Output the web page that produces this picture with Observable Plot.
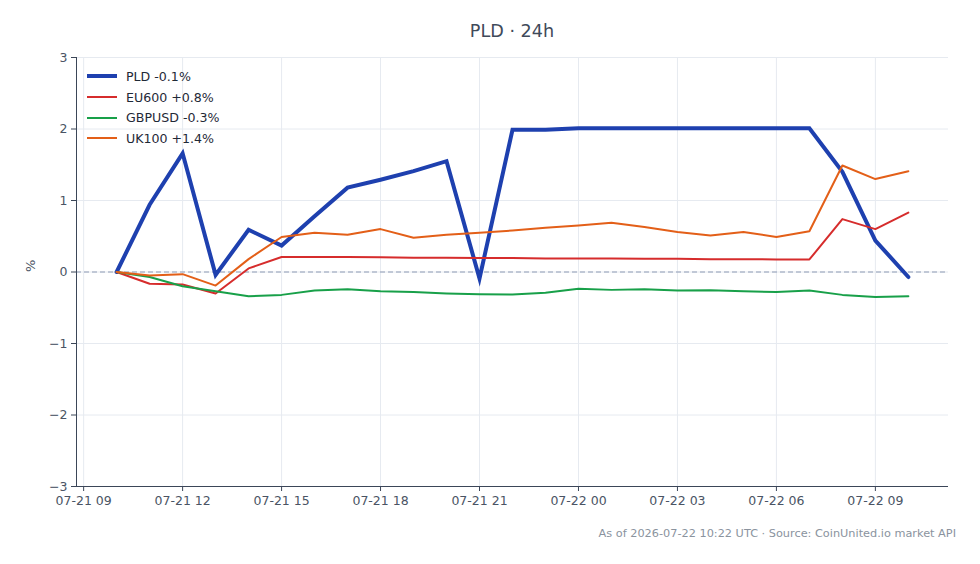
<!DOCTYPE html>
<html><head><meta charset="utf-8">
<script src="https://cdn.jsdelivr.net/npm/d3@7"></script>
<script src="https://cdn.jsdelivr.net/npm/@observablehq/plot@0.6"></script>
<style>
body{margin:0;background:#fff;font-family:"DejaVu Sans",sans-serif;}
#wrap{position:relative;width:980px;height:564px;overflow:hidden;}
#title{position:absolute;left:76px;top:20px;width:872px;text-align:center;font-size:17.6px;color:#3f4a5a;line-height:22px;}
#chart{position:absolute;left:0;top:44px;}
#caption{position:absolute;right:24px;top:527px;font-size:11.3px;color:#8a939e;line-height:14px;white-space:nowrap;}
#legend{position:absolute;left:86px;top:66px;}
.row{display:flex;align-items:center;height:20.7px;font-size:12.6px;color:#1f2937;white-space:nowrap;}
.row svg{margin-right:8px;}
</style></head>
<body><div id="wrap">
<div id="title">PLD · 24h</div>
<div id="chart"></div>
<div id="legend"></div>
<div id="caption">As of 2026-07-22 10:22 UTC · Source: CoinUnited.io market API</div>
</div>
<script>
const times = ["2026-07-21T10:00Z","2026-07-21T11:00Z","2026-07-21T12:00Z","2026-07-21T13:00Z","2026-07-21T14:00Z","2026-07-21T15:00Z","2026-07-21T16:00Z","2026-07-21T17:00Z","2026-07-21T18:00Z","2026-07-21T19:00Z","2026-07-21T20:00Z","2026-07-21T21:00Z","2026-07-21T22:00Z","2026-07-21T23:00Z","2026-07-22T00:00Z","2026-07-22T01:00Z","2026-07-22T02:00Z","2026-07-22T03:00Z","2026-07-22T04:00Z","2026-07-22T05:00Z","2026-07-22T06:00Z","2026-07-22T07:00Z","2026-07-22T08:00Z","2026-07-22T09:00Z","2026-07-22T10:00Z"];
const pld    = [0, 0.94, 1.66, -0.04, 0.59, 0.37, 0.78, 1.18, 1.29, 1.41, 1.55, -0.09, 1.99, 1.99, 2.01, 2.01, 2.01, 2.01, 2.01, 2.01, 2.01, 2.01, 1.40, 0.44, -0.07];
const eu600  = [0, -0.165, -0.175, -0.30, 0.05, 0.21, 0.21, 0.21, 0.205, 0.20, 0.20, 0.195, 0.195, 0.19, 0.19, 0.19, 0.185, 0.185, 0.18, 0.18, 0.175, 0.175, 0.74, 0.60, 0.83];
const gbpusd = [0, -0.07, -0.20, -0.27, -0.34, -0.32, -0.26, -0.24, -0.27, -0.28, -0.30, -0.31, -0.315, -0.29, -0.235, -0.25, -0.24, -0.26, -0.255, -0.27, -0.28, -0.26, -0.32, -0.35, -0.34];
const uk100  = [0, -0.05, -0.03, -0.19, 0.18, 0.49, 0.55, 0.52, 0.60, 0.48, 0.52, 0.55, 0.58, 0.62, 0.65, 0.69, 0.63, 0.56, 0.51, 0.56, 0.49, 0.57, 1.49, 1.30, 1.41];
const seriesNames  = ["PLD -0.1%", "EU600 +0.8%", "GBPUSD -0.3%", "UK100 +1.4%"];
const seriesColors = ["#1e40af", "#d62c2c", "#18a049", "#e35f18"];
const seriesWidths = [4, 2, 2, 2];
const xTickLabels = ["2026-07-21T09:00Z","2026-07-21T12:00Z","2026-07-21T15:00Z","2026-07-21T18:00Z","2026-07-21T21:00Z","2026-07-22T00:00Z","2026-07-22T03:00Z","2026-07-22T06:00Z","2026-07-22T09:00Z"];
const yTicks = [-3, -2, -1, 0, 1, 2, 3];

const seriesValues = [pld, eu600, gbpusd, uk100];
const dates = times.map(t => new Date(t));
const xTicks = xTickLabels.map(t => new Date(t));
const pad = 73 * 60 * 1000;
const xDomain = [new Date(+dates[0] - pad), new Date(+dates[dates.length - 1] + pad)];
const axisColor = "#3b4658";
const labelColor = "#4a5464";

const lineMarks = seriesValues.map((vals, i) =>
  Plot.lineY(vals.map((v, j) => ({t: dates[j], v})), {
    x: "t", y: "v", stroke: seriesColors[i], strokeWidth: seriesWidths[i],
    strokeLinejoin: i === 0 ? "miter" : "round", strokeMiterlimit: 10
  })
);

const chart = Plot.plot({
  width: 980, height: 480,
  marginTop: 13, marginBottom: 38, marginLeft: 76, marginRight: 32,
  style: {fontFamily: "DejaVu Sans", fontSize: "12.5px", color: labelColor, background: "transparent", overflow: "visible"},
  x: {type: "utc", domain: xDomain},
  y: {domain: [-3, 3]},
  marks: [
    Plot.gridX(xTicks, {stroke: "#e6eaf0", strokeOpacity: 1}),
    Plot.gridY(yTicks, {stroke: "#e6eaf0", strokeOpacity: 1}),
    Plot.ruleY([0], {stroke: "#8e9bb5", strokeDasharray: "5,3", strokeWidth: 1}),
    ...lineMarks,
    Plot.axisX(xTicks, {tickFormat: d3.utcFormat("%m-%d %H"), tickSize: 5, tickPadding: 5, label: null, stroke: axisColor, fill: labelColor, fontSize: 12.5}),
    Plot.axisY(yTicks, {tickFormat: d => d < 0 ? "\u2212" + Math.abs(d) : String(d), tickSize: 5, tickPadding: 4, label: null, stroke: axisColor, fill: labelColor, fontSize: 12.5}),
    Plot.ruleX([xDomain[0]], {stroke: axisColor, strokeWidth: 1}),
    Plot.ruleY([-3], {stroke: axisColor, strokeWidth: 1}),
    Plot.text(["%"], {frameAnchor: "left", dx: -46, rotate: -90, fill: labelColor, fontSize: 13})
  ]
});
document.getElementById("chart").appendChild(chart);

const legend = document.getElementById("legend");
seriesNames.forEach((name, i) => {
  const row = document.createElement("div");
  row.className = "row";
  row.innerHTML = `<svg width="32" height="8"><line x1="1" x2="31" y1="4" y2="4" stroke="${seriesColors[i]}" stroke-width="${seriesWidths[i] === 4 ? 4 : 2}"/></svg><span>${name}</span>`;
  legend.appendChild(row);
});
</script>
</body></html>
